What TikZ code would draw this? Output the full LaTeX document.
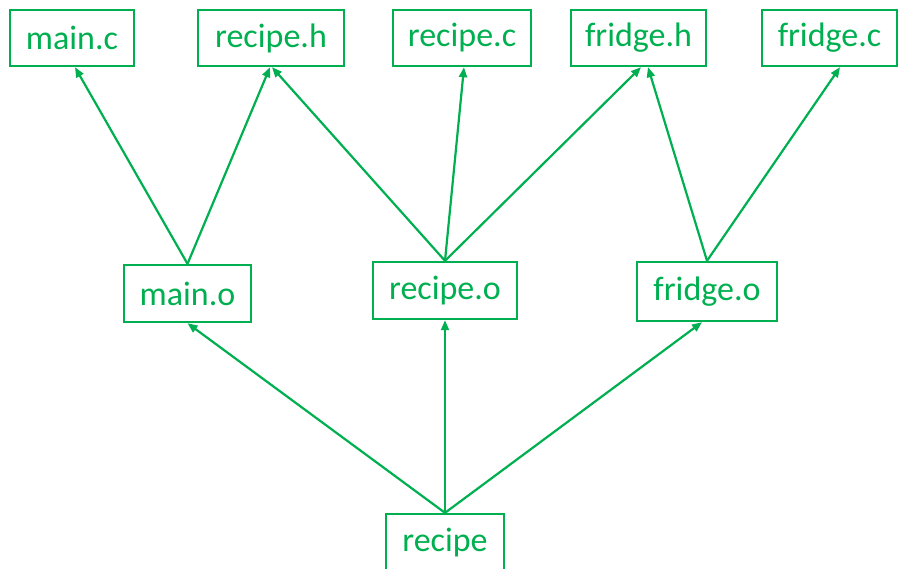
\documentclass[tikz,border=0pt]{standalone}
\usepackage{fontspec}
\setmainfont{Carlito}
\usetikzlibrary{arrows.meta}
\definecolor{depgreen}{HTML}{00B050}
\tikzset{
  filebox/.style={draw=depgreen, line width=2.4pt, text=depgreen, inner sep=0pt,
    font=\fontsize{34}{34}\selectfont},
  dep/.style={draw=depgreen, line width=2.2pt, -{Triangle[length=10pt,width=8pt]}, shorten >=0pt}
}
\begin{document}
\begin{tikzpicture}[x=1pt, y=-1pt]
\useasboundingbox (0,0) rectangle (899,568);
\clip (0,0) rectangle (899,568);
% source files
\node[filebox, minimum width=124pt, minimum height=56pt] (mainc) at (72,38) {main.c};
\node[filebox, minimum width=146pt, minimum height=56pt] (reciph) at (271,38) {recipe.h};
\node[filebox, minimum width=138pt, minimum height=56pt] (recipc) at (462,38) {recipe.c};
\node[filebox, minimum width=135pt, minimum height=56pt] (fridgh) at (638.5,38) {fridge.h};
\node[filebox, minimum width=135pt, minimum height=56pt] (fridgc) at (829.5,38) {fridge.c};
% object files
\node[filebox, minimum width=127pt, minimum height=57pt] (maino) at (187.5,293.5) {main.o};
\node[filebox, minimum width=144pt, minimum height=57pt] (recipo) at (445,290.5) {recipe.o};
\node[filebox, minimum width=140pt, minimum height=59pt] (fridgo) at (707,291.5) {fridge.o};
% executable
\node[filebox, minimum width=118pt, minimum height=58pt] (recipe) at (445,543) {recipe};
% dependencies of the object files
\draw[dep] (maino.north) -- ([xshift=3pt]mainc.south);
\draw[dep] (maino.north) -- ([xshift=-1pt]reciph.south);
\draw[dep] (recipo.north) -- ([xshift=1pt]reciph.south);
\draw[dep] (recipo.north) -- ([xshift=2pt]recipc.south);
\draw[dep] (recipo.north) -- ([xshift=2.5pt]fridgh.south);
\draw[dep] (fridgo.north) -- ([xshift=9.5pt]fridgh.south);
\draw[dep] (fridgo.north) -- ([xshift=10.5pt]fridgc.south);
% dependencies of the executable
\draw[dep] (recipe.north) -- (maino.south);
\draw[dep] (recipe.north) -- (recipo.south);
\draw[dep] (recipe.north) -- ([xshift=-5pt]fridgo.south);
\end{tikzpicture}
\end{document}
